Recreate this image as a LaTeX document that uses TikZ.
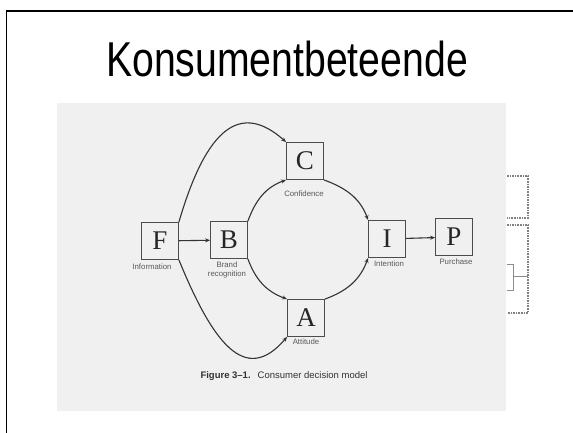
\documentclass[tikz,border=0pt]{standalone}
\usepackage{fontspec}
\newfontfamily\arialfont{Liberation Sans}
\newfontfamily\timesfont{Liberation Serif}
\usetikzlibrary{arrows.meta}
\begin{document}
\begin{tikzpicture}[x=1pt,y=1pt,
  box/.style={draw=black!70, line width=0.8pt, minimum width=37pt, minimum height=37pt, inner sep=0pt,
    font=\timesfont\fontsize{27}{27}\selectfont, text=black!85},
  lab/.style={font=\arialfont\fontsize{7.8}{9.5}\selectfont, text=black!65, inner sep=0pt, align=center},
  arr/.style={draw=black!80, line width=1.1pt, -{Stealth[length=5pt,width=4pt]}},
  dots/.style={dash pattern=on 1.6pt off 1pt, line width=1.4pt, draw=black!50},
  brk/.style={line width=0.6pt, draw=black!45}]
\useasboundingbox (0,0) rectangle (573,433);
\fill[white] (0,0) rectangle (573,433);
% scanned page background
\fill[black!6] (57,22) rectangle (506,330);
% slide frame
\draw[line width=1.5pt] (6.6,0) -- (6.6,422) -- (573,422);
% title
\node[font=\arialfont\fontsize{49}{49}\selectfont, xscale=0.8] (title) at (287,374) {Konsumentbeteende};
% boxes
\node[box] (F) at (160,192) {F};
\node[box] (B) at (229,193) {B};
\node[box] (C) at (305,272) {C};
\node[box] (A) at (306,115) {A};
\node[box] (I) at (387,194) {I};
\node[box] (P) at (454,196) {P};
% labels
\node[lab] (lF) at (152,166) {Information};
\node[lab] (lB) at (227,163) {Brand\\recognition};
\node[lab] (lC) at (304,239) {Confidence};
\node[lab] (lI) at (389,169) {Intention};
\node[lab] (lA) at (306,91) {Attitude};
\node[lab] (lP) at (456,171) {Purchase};
% caption
\node[font=\arialfont\fontsize{9.5}{10}\selectfont, text=black!80] (cap) at (284,57)
  {\textbf{Figure 3–1.}\hspace{7pt}Consumer decision model};
% connectors
\draw[arr] (F) -- (B);
\draw[arr] (I) -- (P);
\draw[arr] (B.north east) to[out=70,in=200] (C.south west);
\draw[arr] (C.south east) to[out=-20,in=110] (I.north west);
\draw[arr] (B.south east) to[out=-70,in=160] (A.north west);
\draw[arr] (A.north east) to[out=20,in=250] (I.south west);
\draw[arr] (F.north east) .. controls +(28,96) and +(-45,40) .. (C.north west);
\draw[arr] (F.south east) .. controls +(34,-83) and +(-42,-49) .. (A.south west);
% right-hand brackets
\coordinate (k1) at (507,257); \coordinate (k2) at (528,257);
\coordinate (k3) at (528,215); \coordinate (k4) at (507,215);
\draw[dots] (k1) -- (k2) -- (k3) -- (k4);
\coordinate (m1) at (507,208); \coordinate (m2) at (528,208);
\coordinate (m3) at (528,120); \coordinate (m4) at (507,120);
\draw[dots] (m1) -- (m2) -- (m3) -- (m4);
\coordinate (s1) at (507,169); \coordinate (s2) at (513,169);
\coordinate (s3) at (513,143); \coordinate (s4) at (507,143);
\coordinate (s5) at (513,157); \coordinate (s6) at (528,157);
\draw[brk] (s1) -- (s2) -- (s3) -- (s4);
\draw[brk] (s5) -- (s6);
\end{tikzpicture}
\end{document}
